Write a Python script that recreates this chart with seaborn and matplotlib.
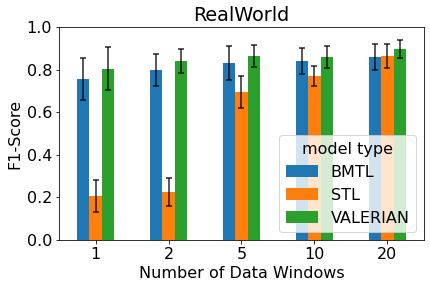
import matplotlib
matplotlib.use("Agg")
import matplotlib.pyplot as plt
import seaborn as sns
import pandas as pd
import numpy as np

windows = ["1", "2", "5", "10", "20"]
models = ["BMTL", "STL", "VALERIAN"]
bmtl = [0.756, 0.798, 0.831, 0.840, 0.859]
stl = [0.206, 0.225, 0.695, 0.770, 0.864]
valerian = [0.803, 0.840, 0.864, 0.859, 0.897]
bmtl_err = [0.100, 0.075, 0.078, 0.061, 0.063]
stl_err = [0.075, 0.066, 0.077, 0.049, 0.055]
valerian_err = [0.101, 0.056, 0.052, 0.053, 0.042]

rows = []
for m, vals, errs in zip(models, [bmtl, stl, valerian], [bmtl_err, stl_err, valerian_err]):
    for w, v, e in zip(windows, vals, errs):
        rows.append({"windows": w, "model type": m, "f1": v, "err": e})
df = pd.DataFrame(rows)

plt.rcParams["font.family"] = ["DejaVu Sans"]
plt.rcParams["font.size"] = 16

fig = plt.figure(figsize=(430 / 72, 288 / 72), dpi=72)
ax = fig.add_axes([59 / 430, 1 - 240 / 288, (424 - 59) / 430, (240 - 27) / 288])

palette = ["#1f77b4", "#ff7f0e", "#2ca02c"]
sns.barplot(data=df, x="windows", y="f1", hue="model type", order=windows,
            hue_order=models, palette=palette, width=0.5, errorbar=None,
            saturation=1, ax=ax, gap=0)

# error bars at bar centers
for container, m in zip(ax.containers, models):
    sub = df[df["model type"] == m].set_index("windows").loc[windows]
    xs = [p.get_x() + p.get_width() / 2 for p in container.patches]
    ax.errorbar(xs, sub["f1"].values, yerr=sub["err"].values, fmt="none",
                ecolor="black", alpha=0.8, elinewidth=1.6, capsize=3, capthick=1.6)

ax.set_xlim(-0.5, 4.5)
ax.set_ylim(0, 1.0)
ax.set_yticks([0.0, 0.2, 0.4, 0.6, 0.8, 1.0])
ax.set_title("RealWorld", fontsize=19.2)
ax.set_xlabel("Number of Data Windows", fontsize=16)
ax.set_ylabel("F1-Score", fontsize=16)
ax.tick_params(labelsize=16)
ax.legend(title="model type", loc="lower right", fontsize=16, title_fontsize=16)

fig.savefig("out.png", dpi=72)
